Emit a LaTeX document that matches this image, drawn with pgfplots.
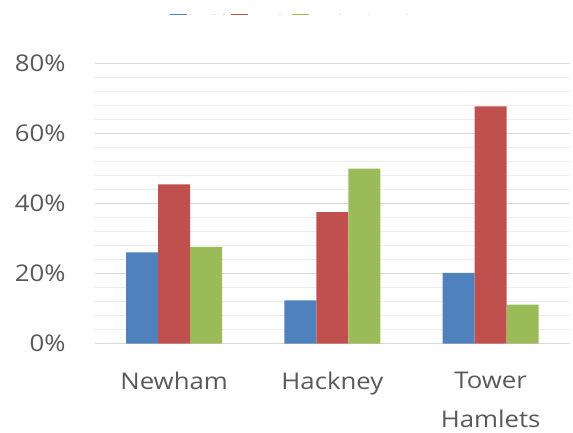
\documentclass[border=0pt]{standalone}
\usepackage{pgfplots}
\pgfplotsset{compat=1.18}
\usepackage{fontspec}
\setmainfont[FakeStretch=1.12]{Open Sans}

\definecolor{serA}{HTML}{4F81BD}
\definecolor{serB}{HTML}{C0504D}
\definecolor{serC}{HTML}{9BBB59}
\definecolor{majgrid}{HTML}{D9D9D9}
\definecolor{mingrid}{HTML}{EDEDED}
\definecolor{labelgray}{HTML}{595959}

\begin{document}
\begin{tikzpicture}[x=1pt,y=1pt]
\useasboundingbox (0,0) rectangle (573,432);
\clip (0,0) rectangle (573,432);
\begin{axis}[
    at={(95pt,88.5pt)}, anchor=south west,
    scale only axis,
    width=474.75pt, height=280.2pt,
    xmin=-0.5, xmax=2.5,
    ymin=0, ymax=80,
    ybar=0pt, bar width=32pt,
    axis line style={draw=none},
    major tick length=0pt, minor tick length=0pt,
    xtick={0,1,2},
    xticklabels={Newham, Hackney, {Tower\\Hamlets}},
    xticklabel style={align=center, yshift=-25pt,
        font=\fontsize{23}{39}\selectfont, text=labelgray},
    ytick={0,20,40,60,80},
    yticklabels={0\%,20\%,40\%,60\%,80\%},
    yticklabel style={xshift=-26pt, font=\fontsize{23}{28}\selectfont, text=labelgray},
    /pgf/number format/assume math mode=true,
    minor y tick num=4,
    ymajorgrids, yminorgrids,
    major grid style={draw=majgrid, line width=1.5pt},
    minor grid style={draw=mingrid, line width=1pt},
    legend columns=-1,
    legend image code/.code={\fill[#1] (0pt,-7pt) rectangle (17pt,7pt);},
    legend style={draw=none, fill=none, inner sep=0pt,
        at={(axis description cs:0.158,1.1669)}, anchor=south west,
        font=\fontsize{19}{23}\selectfont, text=labelgray,
        nodes={inner sep=0pt},
        /tikz/every odd column/.append style={column sep=9pt},
        /tikz/every even column/.append style={column sep=0pt}},
]
\addplot[fill=serA, draw=none] coordinates {(0,26.0) (1,12.3) (2,20.2)};
\addlegendentry{\makebox[35pt][l]{Yes}}
\addplot[fill=serB, draw=none] coordinates {(0,45.4) (1,37.5) (2,67.7)};
\addlegendentry{\makebox[35pt][l]{No}}
\addplot[fill=serC, draw=none] coordinates {(0,27.6) (1,49.9) (2,11.1)};
\addlegendentry{Don't know}
\end{axis}
% the legend is masked, leaving only a thin strip along its lower edge
\fill[white] (0,417.5) rectangle (573,432);
\fill[white] (150,370.5) rectangle (573,414.5);
\end{tikzpicture}
\end{document}
